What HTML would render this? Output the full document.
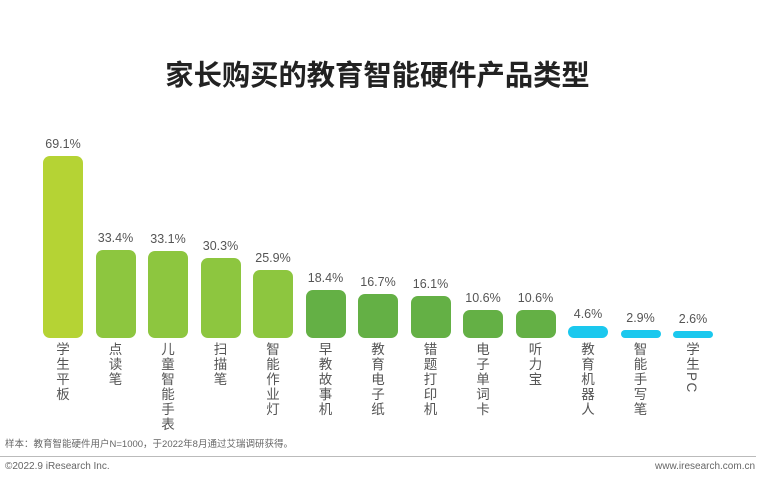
<!DOCTYPE html><html><head><meta charset="utf-8"><style>
body{margin:0;width:771px;height:488px;background:#fff;position:relative;font-family:"Liberation Sans","Noto Sans CJK SC",sans-serif;overflow:hidden}
.t{position:absolute;top:53px;left:-8px;width:771px;text-align:center;font-size:28.3px;font-weight:bold;color:#222}
.b{position:absolute;width:40px;border-radius:7px}
.v{position:absolute;width:60px;text-align:center;font-size:12.5px;color:#555}
.l{position:absolute;width:16px;font-size:13.5px;line-height:16px;color:#555;writing-mode:vertical-rl;letter-spacing:1.5px}
.s{position:absolute;font-size:9.5px;color:#666}
</style></head><body>
<div class="t">家长购买的教育智能硬件产品类型</div>
<div id="c"></div>
<div class="s" style="left:5px;top:436px">样本：教育智能硬件用户N=1000，于2022年8月通过艾瑞调研获得。</div>
<div style="position:absolute;left:0;top:456px;width:756px;height:1px;background:#bbb"></div>
<div class="s" style="left:5px;top:461px;font-size:10px">©2022.9 iResearch Inc.</div>
<div class="s" style="left:655px;top:461px;font-size:10px">www.iresearch.com.cn</div>
<script>
var d=[["69.1%",156,"学生平板","#b5d334"],["33.4%",250,"点读笔","#8dc63f"],["33.1%",251,"儿童智能手表","#8dc63f"],["30.3%",258,"扫描笔","#8dc63f"],["25.9%",270,"智能作业灯","#8dc63f"],["18.4%",290,"早教故事机","#64b045"],["16.7%",294,"教育电子纸","#64b045"],["16.1%",296,"错题打印机","#64b045"],["10.6%",310,"电子单词卡","#64b045"],["10.6%",310,"听力宝","#64b045"],["4.6%",326,"教育机器人","#1bc8ee"],["2.9%",330,"智能手写笔","#1bc8ee"],["2.6%",331,"学生PC","#1bc8ee"]];
var h="";d.forEach(function(e,i){var c=63+52.5*i;
h+='<div class="b" style="left:'+(c-20)+'px;top:'+e[1]+'px;height:'+(338-e[1])+'px;background:'+e[3]+'"></div>';
h+='<div class="v" style="left:'+(c-30)+'px;top:'+(e[1]-19)+'px">'+e[0]+'</div>';
h+='<div class="l" style="left:'+(c-10)+'px;top:342px">'+e[2]+'</div>';});
document.getElementById("c").innerHTML=h;
</script></body></html>
